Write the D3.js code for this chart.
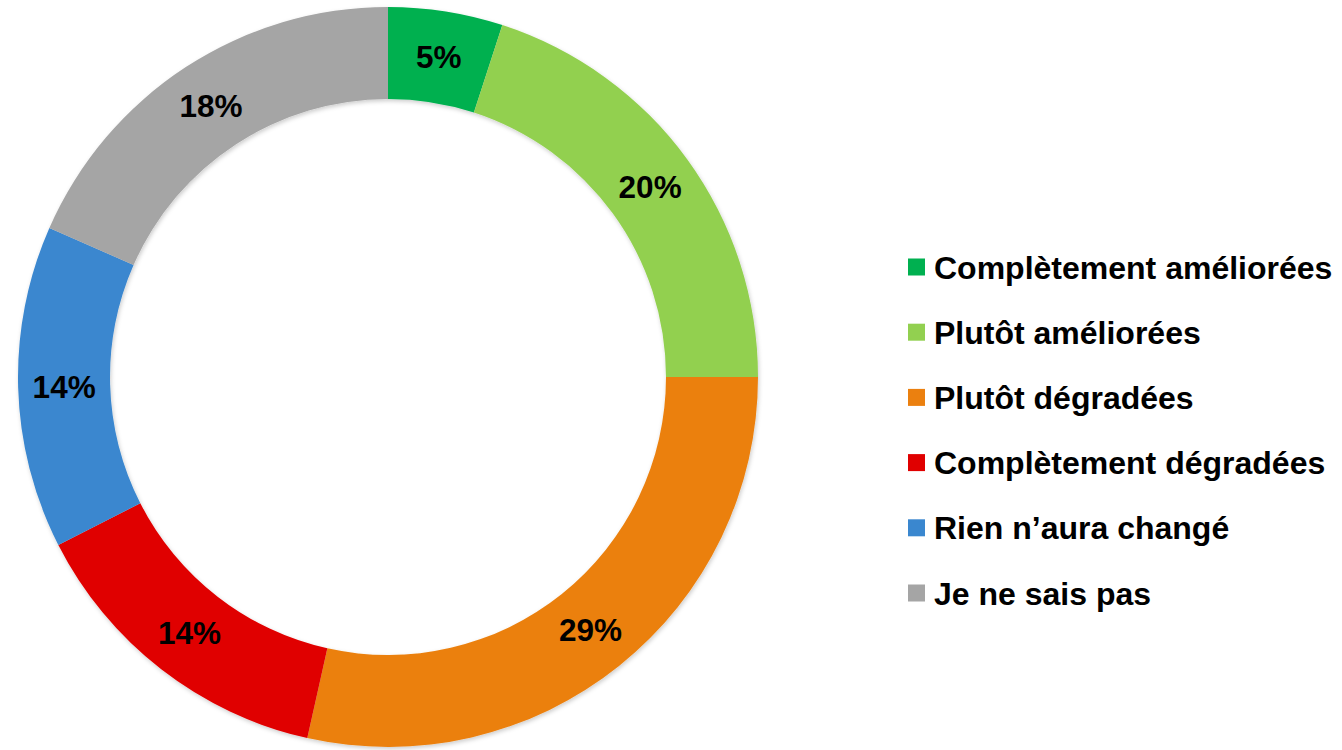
<!DOCTYPE html>
<html>
<head>
<meta charset="utf-8">
<script src="https://cdn.jsdelivr.net/npm/d3@7"></script>
<style>
  body { margin: 0; background: #fff; }
  svg { display: block; }
  text { font-family: "Liberation Sans", Arial, sans-serif; font-weight: bold; }
</style>
</head>
<body>
<div id="chart"></div>
<script>
const categories = ["Complètement améliorées", "Plutôt améliorées", "Plutôt dégradées",
  "Complètement dégradées", "Rien n’aura changé", "Je ne sais pas"];
const values = [5, 20, 28.5, 14, 14.1, 18.4];
const colors = ["#00b050", "#92d050", "#eb800f", "#e00000", "#3a87cf", "#a5a5a5"];

const width = 1342, height = 750;
const cx = 388, cy = 377;
const outerR = 370, innerR = 278;

const svg = d3.select("#chart").append("svg")
  .attr("width", width)
  .attr("height", height);

const defs = svg.append("defs");
const shadow = defs.append("filter").attr("id", "shadow")
  .attr("x", "-10%").attr("y", "-10%").attr("width", "120%").attr("height", "120%");
shadow.append("feDropShadow")
  .attr("dx", 1).attr("dy", 2).attr("stdDeviation", 2)
  .attr("flood-color", "#000").attr("flood-opacity", 0.2);

const data = categories.map((c, i) => ({ name: c, value: values[i], color: colors[i] }));

const pie = d3.pie().value(d => d.value).sort(null);
const arc = d3.arc().innerRadius(innerR).outerRadius(outerR);
const labelArc = d3.arc().innerRadius((innerR + outerR) / 2).outerRadius((innerR + outerR) / 2);

const g = svg.append("g").attr("transform", `translate(${cx},${cy})`);

g.append("g").attr("filter", "url(#shadow)")
  .selectAll("path")
  .data(pie(data))
  .join("path")
  .attr("d", arc)
  .attr("fill", d => d.data.color);

g.selectAll("text.lbl")
  .data(pie(data))
  .join("text")
  .attr("class", "lbl")
  .attr("transform", d => `translate(${labelArc.centroid(d)})`)
  .attr("text-anchor", "middle")
  .attr("dy", "0.36em")
  .attr("font-size", "31.5px")
  .attr("fill", "#000")
  .text(d => Math.round(d.data.value) + "%");

// Legend
const legendY = d3.scalePoint()
  .domain(categories)
  .range([267, 593]);

const legend = svg.append("g");
const items = legend.selectAll("g")
  .data(data)
  .join("g")
  .attr("transform", d => `translate(908,${legendY(d.name)})`);

items.append("rect")
  .attr("x", 0)
  .attr("y", -8.5)
  .attr("width", 17)
  .attr("height", 17)
  .attr("fill", d => d.color);

items.append("text")
  .attr("x", 26)
  .attr("dy", "0.36em")
  .attr("font-size", "32px")
  .attr("fill", "#000")
  .text(d => d.name);
</script>
</body>
</html>
